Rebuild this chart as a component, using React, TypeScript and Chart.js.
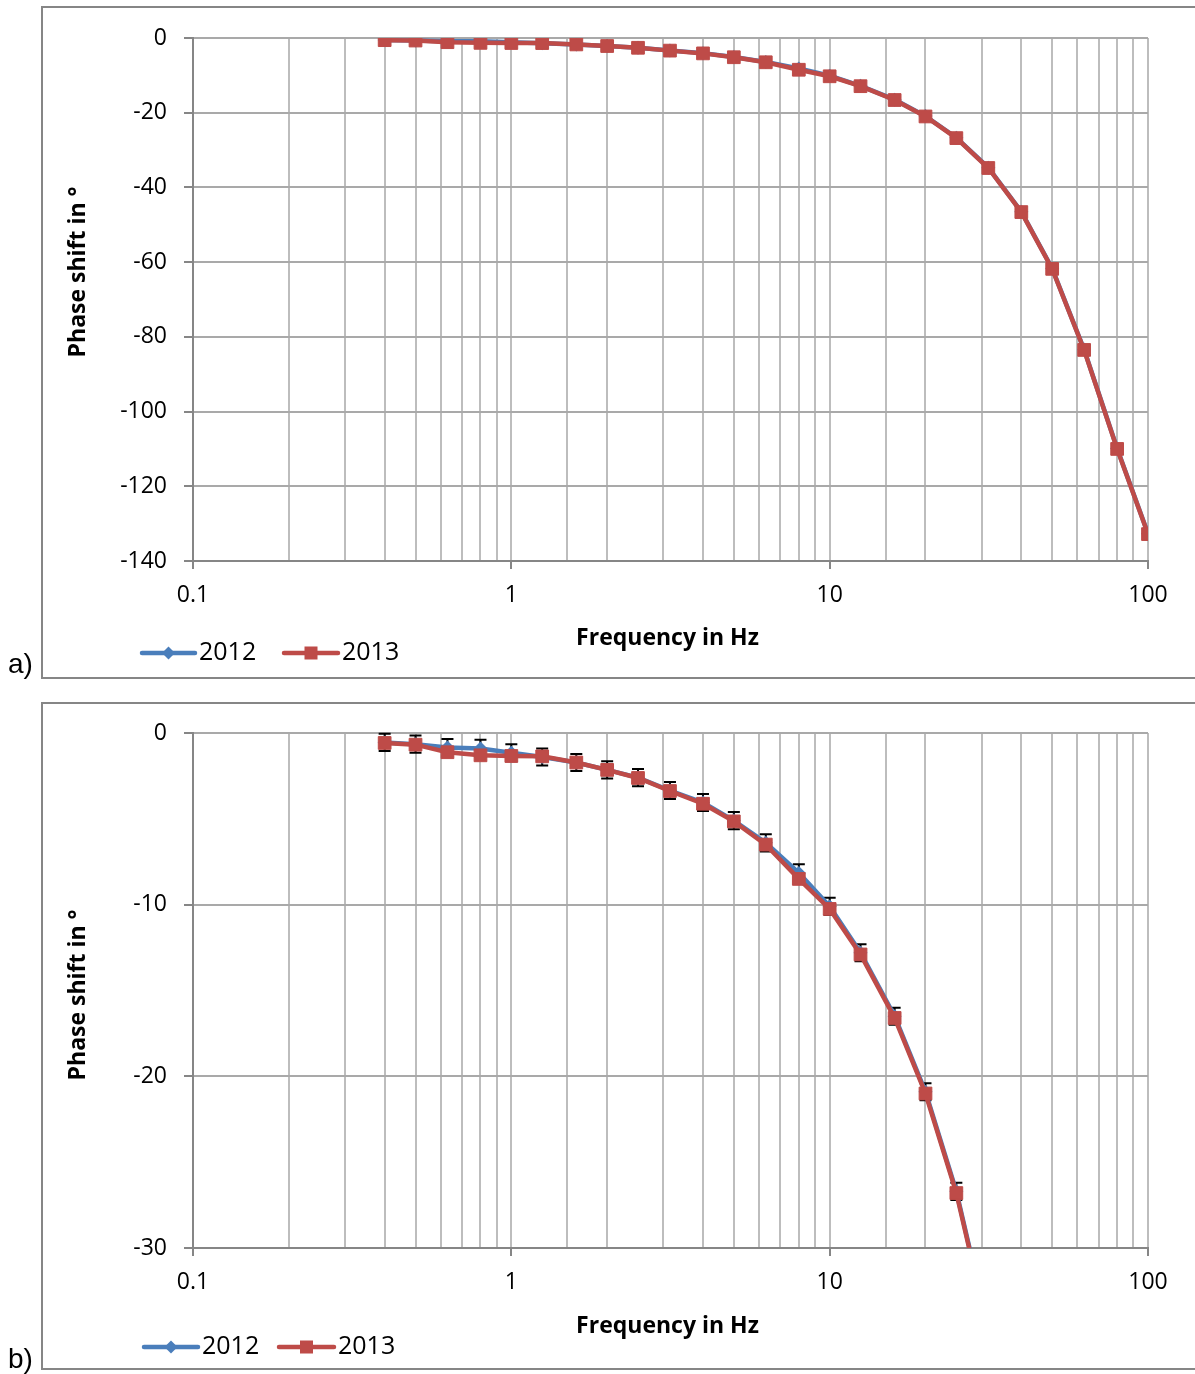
import React, { useEffect, useRef } from 'react';
import { Chart, registerables } from 'chart.js';

Chart.register(...registerables);

// ---------- data ----------
const frequencies = [0.4, 0.5, 0.63, 0.8, 1, 1.25, 1.6, 2, 2.5, 3.15, 4, 5, 6.3, 8, 10, 12.5, 16, 20, 25, 31.5, 40, 50, 63, 80, 100];
const phase2012 = [-0.55, -0.65, -0.85, -0.9, -1.15, -1.4, -1.72, -2.15, -2.6, -3.35, -4.05, -5.1, -6.4, -8.15, -10.1, -12.8, -16.5, -20.9, -26.7, -34.7, -46.5, -61.7, -83.4, -109.9, -132.7];
const phase2013 = [-0.58, -0.68, -1.12, -1.3, -1.34, -1.36, -1.72, -2.15, -2.62, -3.38, -4.12, -5.15, -6.5, -8.5, -10.25, -12.9, -16.6, -21.0, -26.8, -34.8, -46.6, -61.8, -83.5, -110.0, -132.8];
const error2012 = [0.5, 0.5, 0.5, 0.5, 0.5, 0.5, 0.5, 0.5, 0.5, 0.5, 0.5, 0.5, 0.5, 0.5, 0.5, 0.5, 0.5, 0.5, 0.5, 0.5, 0.5, 0.5, 0.5, 0.5, 0.5];
const seriesNames = ['2012', '2013'];
const xTickLabels = ['0.1', '1', '10', '100'];
const xTitle = 'Frequency in Hz';
const yTitle = 'Phase shift in °';

const BLUE = '#4a7ebb';
const RED = '#be4b48';
const AXIS = '#868686';
const FONT = "'Open Sans', 'Liberation Sans', sans-serif";

type Panel = {
  label: string;
  top: number;
  height: number;
  yMin: number;
  yMax: number;
  yStep: number;
  chartTop: number;
  chartBottom: number;
  borderTop: number;
  borderBottom: number;
  legendY: number;
  legendX: number[];
  xTitleY: number;
  yTitleY: number;
  labelY: number;
  errorBars: boolean;
};

const panels: Panel[] = [
  {
    label: 'a)', top: 0, height: 690, yMin: -140, yMax: 0, yStep: 20,
    chartTop: 38, chartBottom: 561, borderTop: 7, borderBottom: 678,
    legendY: 653, legendX: [142, 195, 284, 338], xTitleY: 638, yTitleY: 272, labelY: 665,
    errorBars: false,
  },
  {
    label: 'b)', top: 690, height: 684, yMin: -30, yMax: 0, yStep: 10,
    chartTop: 43, chartBottom: 558, borderTop: 13, borderBottom: 679,
    legendY: 657, legendX: [144, 198, 279, 334], xTitleY: 636, yTitleY: 305, labelY: 670,
    errorBars: true,
  },
];

const isDecade = (v: number) => {
  const l = Math.log10(v);
  return Math.abs(l - Math.round(l)) < 1e-6;
};

function drawDiamond(ctx: CanvasRenderingContext2D, x: number, y: number, r: number, color: string) {
  ctx.beginPath();
  ctx.moveTo(x, y - r);
  ctx.lineTo(x + r, y);
  ctx.lineTo(x, y + r);
  ctx.lineTo(x - r, y);
  ctx.closePath();
  ctx.fillStyle = color;
  ctx.fill();
}

function drawSquare(ctx: CanvasRenderingContext2D, x: number, y: number, s: number, color: string) {
  ctx.fillStyle = color;
  ctx.fillRect(x - s / 2, y - s / 2, s, s);
}

function PanelChart({ panel }: { panel: Panel }) {
  const ref = useRef<HTMLCanvasElement | null>(null);

  useEffect(() => {
    const canvas = ref.current;
    if (!canvas) return;

    const decor = {
      id: 'decor',
      beforeDatasetsDraw(chart: any) {
        if (!panel.errorBars) return;
        const { ctx, chartArea, scales } = chart;
        ctx.save();
        ctx.beginPath();
        ctx.rect(chartArea.left, chartArea.top - 10, chartArea.right - chartArea.left, chartArea.bottom - chartArea.top + 10);
        ctx.clip();
        ctx.strokeStyle = '#000';
        ctx.lineWidth = 2;
        frequencies.forEach((f, i) => {
          const x = scales.x.getPixelForValue(f);
          const y1 = scales.y.getPixelForValue(phase2012[i] + error2012[i]);
          const y2 = scales.y.getPixelForValue(phase2012[i] - error2012[i]);
          ctx.beginPath();
          ctx.moveTo(x, y1);
          ctx.lineTo(x, y2);
          ctx.moveTo(x - 6, y1);
          ctx.lineTo(x + 6, y1);
          ctx.moveTo(x - 6, y2);
          ctx.lineTo(x + 6, y2);
          ctx.stroke();
        });
        ctx.restore();
      },
      afterDraw(chart: any) {
        const { ctx, chartArea } = chart;
        ctx.save();
        // outer chart border
        ctx.strokeStyle = AXIS;
        ctx.lineWidth = 2;
        ctx.strokeRect(42, panel.borderTop, 1200, panel.borderBottom - panel.borderTop);

        // axis titles
        ctx.fillStyle = '#000';
        ctx.font = `bold 23px ${FONT}`;
        ctx.textAlign = 'center';
        ctx.textBaseline = 'middle';
        ctx.fillText(xTitle, (chartArea.left + chartArea.right) / 2 - 3, panel.xTitleY);
        ctx.save();
        ctx.translate(78, panel.yTitleY);
        ctx.rotate(-Math.PI / 2);
        ctx.fillText(yTitle, 0, 0);
        ctx.restore();

        // legend
        const [a1, a2, b1, b2] = panel.legendX;
        const ly = panel.legendY;
        ctx.lineWidth = 4.5;
        ctx.lineCap = 'round';
        ctx.strokeStyle = BLUE;
        ctx.beginPath();
        ctx.moveTo(a1, ly);
        ctx.lineTo(a2, ly);
        ctx.stroke();
        drawDiamond(ctx, (a1 + a2) / 2, ly, 6.5, BLUE);
        ctx.strokeStyle = RED;
        ctx.beginPath();
        ctx.moveTo(b1, ly);
        ctx.lineTo(b2, ly);
        ctx.stroke();
        drawSquare(ctx, (b1 + b2) / 2, ly, 13, RED);
        ctx.font = `25px ${FONT}`;
        ctx.textAlign = 'left';
        ctx.fillStyle = '#000';
        ctx.fillText(seriesNames[0], a2 + 4, ly);
        ctx.fillText(seriesNames[1], b2 + 4, ly);

        // panel label
        ctx.font = `28px 'Liberation Sans', Arial, sans-serif`;
        ctx.fillText(panel.label, 8, panel.labelY);
        ctx.restore();
      },
    };

    const chart = new Chart(canvas, {
      type: 'line',
      data: {
        datasets: [
          {
            label: seriesNames[0],
            data: frequencies.map((f, i) => ({ x: f, y: phase2012[i] })),
            borderColor: BLUE,
            backgroundColor: BLUE,
            borderWidth: 4.5,
            pointStyle: 'rectRot',
            pointRadius: 7,
            pointBorderWidth: 0,
            tension: 0,
            order: 1,
          },
          {
            label: seriesNames[1],
            data: frequencies.map((f, i) => ({ x: f, y: phase2013[i] })),
            borderColor: RED,
            backgroundColor: RED,
            borderWidth: 4.5,
            pointStyle: 'rect',
            pointRadius: 9,
            pointBorderWidth: 1,
            tension: 0,
            order: 0,
          },
        ],
      },
      options: {
        responsive: false,
        animation: false,
        events: [],
        layout: { padding: { top: panel.chartTop, right: 1195 - 1148, left: 0, bottom: 0 } },
        plugins: {
          legend: { display: false },
          tooltip: { enabled: false },
          title: { display: false },
        },
        scales: {
          x: {
            type: 'logarithmic',
            min: 0.1,
            max: 100,
            afterFit: (scale: any) => { scale.height = panel.height - panel.chartBottom; },
            border: { color: AXIS, width: 2 },
            grid: {
              color: '#bdbdbd',
              lineWidth: 2,
              tickLength: 8,
              tickColor: (ctx: any) => (ctx.tick && isDecade(ctx.tick.value) ? AXIS : 'rgba(0,0,0,0)'),
            },
            ticks: {
              autoSkip: false,
              maxRotation: 0,
              padding: 13,
              color: '#000',
              font: { family: FONT, size: 23 },
              callback: (v: any) => {
                const n = Number(v);
                if (!isDecade(n)) return '';
                const idx = Math.round(Math.log10(n)) + 1;
                return xTickLabels[idx] ?? '';
              },
            },
          },
          y: {
            type: 'linear',
            min: panel.yMin,
            max: panel.yMax,
            afterFit: (scale: any) => { scale.width = 193; },
            border: { color: AXIS, width: 2 },
            grid: { color: '#a9a9a9', lineWidth: 2, tickLength: 9, tickColor: AXIS },
            ticks: {
              stepSize: panel.yStep,
              padding: 17,
              color: '#000',
              font: { family: FONT, size: 23 },
              callback: (v: any) => String(v),
            },
          },
        },
      },
      plugins: [decor],
    } as any);

    return () => chart.destroy();
  }, [panel]);

  return (
    <canvas
      ref={ref}
      width={1195}
      height={panel.height}
      style={{ position: 'absolute', left: 0, top: panel.top, width: 1195, height: panel.height, display: 'block' }}
    />
  );
}

export default function App() {
  return (
    <div style={{ position: 'absolute', left: 0, top: 0, width: 1195, height: 1374, overflow: 'hidden', background: '#fff' }}>
      {panels.map((p) => (
        <PanelChart key={p.label} panel={p} />
      ))}
    </div>
  );
}
